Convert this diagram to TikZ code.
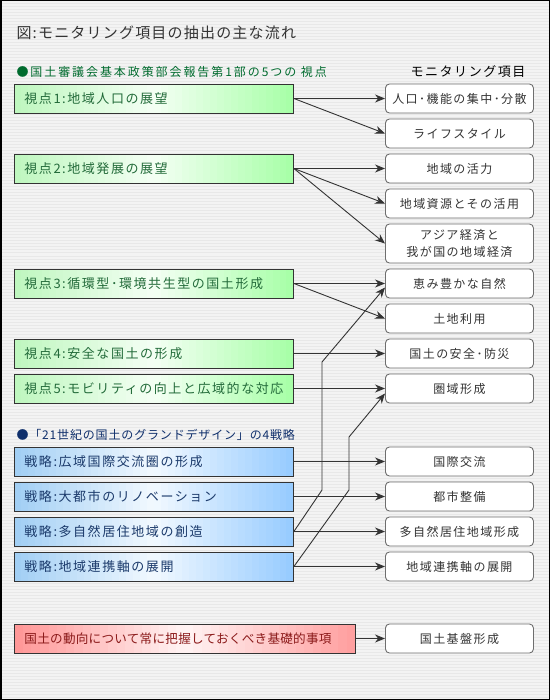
\documentclass[tikz,border=0pt]{standalone}
\usepackage{fontspec}
\setmainfont{Noto Sans CJK JP}[LetterSpace=12]
\usetikzlibrary{arrows.meta,calc}

\definecolor{bggray}{HTML}{F3F3F3}
\definecolor{stripe}{HTML}{E8E8E8}
\definecolor{titletext}{HTML}{333333}
\definecolor{headgreen}{HTML}{006B2E}
\definecolor{headblue}{HTML}{0F2F6B}
\definecolor{viewtext}{HTML}{236B3A}
\definecolor{plantext}{HTML}{1B3A6B}
\definecolor{basetext}{HTML}{8B1A1A}
\definecolor{greenL}{HTML}{BFF7BF}
\definecolor{greenM}{HTML}{F6FFF6}
\definecolor{greenR}{HTML}{A8FFA8}
\definecolor{blueL}{HTML}{A2CFF4}
\definecolor{blueM}{HTML}{F4FAFF}
\definecolor{blueR}{HTML}{98CCFF}
\definecolor{redL}{HTML}{FF9898}
\definecolor{redM}{HTML}{FFF6F6}
\definecolor{redR}{HTML}{FFA0A0}
\definecolor{boxline}{HTML}{333333}
\definecolor{itemline}{HTML}{6E6E6E}
\definecolor{itemtext}{HTML}{333333}
\definecolor{arrowgray}{HTML}{333333}

\newcommand\gap{\kern1.5pt}
\newcommand\gradstrips[3]{%
    \path (path picture bounding box.south west) coordinate (pa)
          (path picture bounding box.north east) coordinate (pb);
    \foreach \i in {0,...,39}{
        \pgfmathtruncatemacro\p{\i<20 ? 100-5*\i : 5*(\i-19)}
        \pgfmathsetmacro\fa{\i/40}
        \pgfmathsetmacro\fb{(\i+1.3)/40}
        \ifnum\i<20 \colorlet{stripcol}{#1!\p!#2}\else\colorlet{stripcol}{#3!\p!#2}\fi
        \fill[stripcol] ($(pa)!\fa!(pa -| pb)$) rectangle ($(pa |- pb)!\fb!(pb)$);
    }}

\begin{document}
\begin{tikzpicture}[x=1pt,y=-1pt,
    arr/.style={draw=arrowgray, line width=0.9pt, -{Stealth[length=10pt,width=8pt]}},
    gradfill/.style n args={3}{path picture={\gradstrips{#1}{#2}{#3}}},
    leftbox/.style={draw=boxline, line width=0.9pt, anchor=west, minimum height=29pt,
        inner xsep=10pt, align=left, font=\fontsize{13}{15}\selectfont},
    viewbox/.style={leftbox, text width=259pt, text=viewtext,
        gradfill={greenL}{greenM}{greenR}},
    planbox/.style={leftbox, text width=259pt, text=plantext,
        gradfill={blueL}{blueM}{blueR}},
    basebox/.style={leftbox, text width=321pt, text=basetext,
        font=\fontsize{12.6}{15}\selectfont\addfontfeature{LetterSpace=2},
        gradfill={redL}{redM}{redR}},
    itembox/.style={draw=itemline, line width=0.9pt, fill=white, rounded corners=4pt,
        anchor=west, minimum width=148pt, minimum height=29pt, align=center,
        text=itemtext, font=\fontsize{12}{17}\selectfont}]
        \useasboundingbox (0,0) rectangle (550,700);
        \fill[bggray] (0,0) rectangle (550,700);
        \foreach \k in {1,4,...,700}
            \draw[stripe, line width=1pt] (0,\k) -- (550,\k);
        \draw[black, line width=1.5pt] (0.75,0.75) rectangle (549.25,699.25);

        \node[anchor=west, text=titletext, font=\fontsize{15}{17}\selectfont\addfontfeature{LetterSpace=8}] (title) at (13,33) {図:モニタリング項目の抽出の主な流れ};
        \node[anchor=west, text=headgreen, font=\fontsize{12}{14}\selectfont\addfontfeature{LetterSpace=16}] (head1) at (13,72) {●国土審議会基本政策部会報告第1部の5つの 視点};
        \node[text=black, font=\fontsize{13}{15}\selectfont] (headitem) at (468,72) {モニタリング項目};
        \node[anchor=west, text=headblue, font=\fontsize{12}{14}\selectfont\addfontfeature{LetterSpace=7}] (head2) at (13,435) {●「21世紀の国土のグランドデザイン」の4戦略};

        \node[viewbox] (v1) at (14,98.5) {視点\gap{}1\gap{}:\gap{}地域人口の展望};
        \node[viewbox] (v2) at (14,168.5) {視点\gap{}2\gap{}:\gap{}地域発展の展望};
        \node[viewbox] (v3) at (14,283.5) {視点\gap{}3\gap{}:\gap{}循環型･環境共生型の国土形成};
        \node[viewbox] (v4) at (14,353.5) {視点\gap{}4\gap{}:\gap{}安全な国土の形成};
        \node[viewbox] (v5) at (14,388.5) {視点\gap{}5\gap{}:\gap{}モビリティの向上と広域的な対応};
        \node[planbox] (s1) at (14,461.5) {戦略\gap{}:\gap{}広域国際交流圏の形成};
        \node[planbox] (s2) at (14,496.5) {戦略\gap{}:\gap{}大都市のリノベーション};
        \node[planbox] (s3) at (14,531.5) {戦略\gap{}:\gap{}多自然居住地域の創造};
        \node[planbox] (s4) at (14,566.5) {戦略\gap{}:\gap{}地域連携軸の展開};
        \node[basebox] (base) at (14,638.5) {国土の動向について常に把握しておくべき基礎的事項};

        \node[itembox] (m1) at (385,98.5) {人口･機能の集中･分散};
        \node[itembox] (m2) at (385,133.5) {ライフスタイル};
        \node[itembox] (m3) at (385,168.5) {地域の活力};
        \node[itembox] (m4) at (385,203.5) {地域資源とその活用};
        \node[itembox, minimum height=39pt] (m5) at (385,243.5) {アジア経済と\\我が国の地域経済};
        \node[itembox] (m6) at (385,283.5) {恵み豊かな自然};
        \node[itembox] (m7) at (385,318.5) {土地利用};
        \node[itembox] (m8) at (385,353.5) {国土の安全･防災};
        \node[itembox] (m9) at (385,388.5) {圏域形成};
        \node[itembox] (m10) at (385,461.5) {国際交流};
        \node[itembox] (m11) at (385,496.5) {都市整備};
        \node[itembox] (m12) at (385,531.5) {多自然居住地域形成};
        \node[itembox] (m13) at (385,566.5) {地域連携軸の展開};
        \node[itembox] (m14) at (385,638.5) {国土基盤形成};

        \coordinate (c1) at (322,490);
        \coordinate (c2) at (322,362);
        \coordinate (d1) at (349,490);
        \coordinate (d2) at (349,437);

        \draw[arr] (v1.east) -- (m1.west);
        \draw[arr] (v1.east) -- (m2.west);
        \draw[arr] (v2.east) -- (m3.west);
        \draw[arr] (v2.east) -- (m4.west);
        \draw[arr] (v2.east) -- (m5.west);
        \draw[arr] (v3.east) -- (m6.west);
        \draw[arr] (v3.east) -- (m7.west);
        \draw[arr] (v4.east) -- (m8.west);
        \draw[arr] (v5.east) -- (m9.west);
        \draw[arr] (s1.east) -- (m10.west);
        \draw[arr] (s2.east) -- (m11.west);
        \draw[arr] (s3.east) -- (m12.west);
        \draw[arr] (s4.east) -- (m13.west);
        \draw[arr] (s3.east) -- (c1) -- (c2) -- ([yshift=-4pt]m6.west);
        \draw[arr] (s4.east) -- (d1) -- (d2) -- ([yshift=-5pt]m9.west);
        \draw[arr] (base.east) -- (m14.west);
\end{tikzpicture}
\end{document}
